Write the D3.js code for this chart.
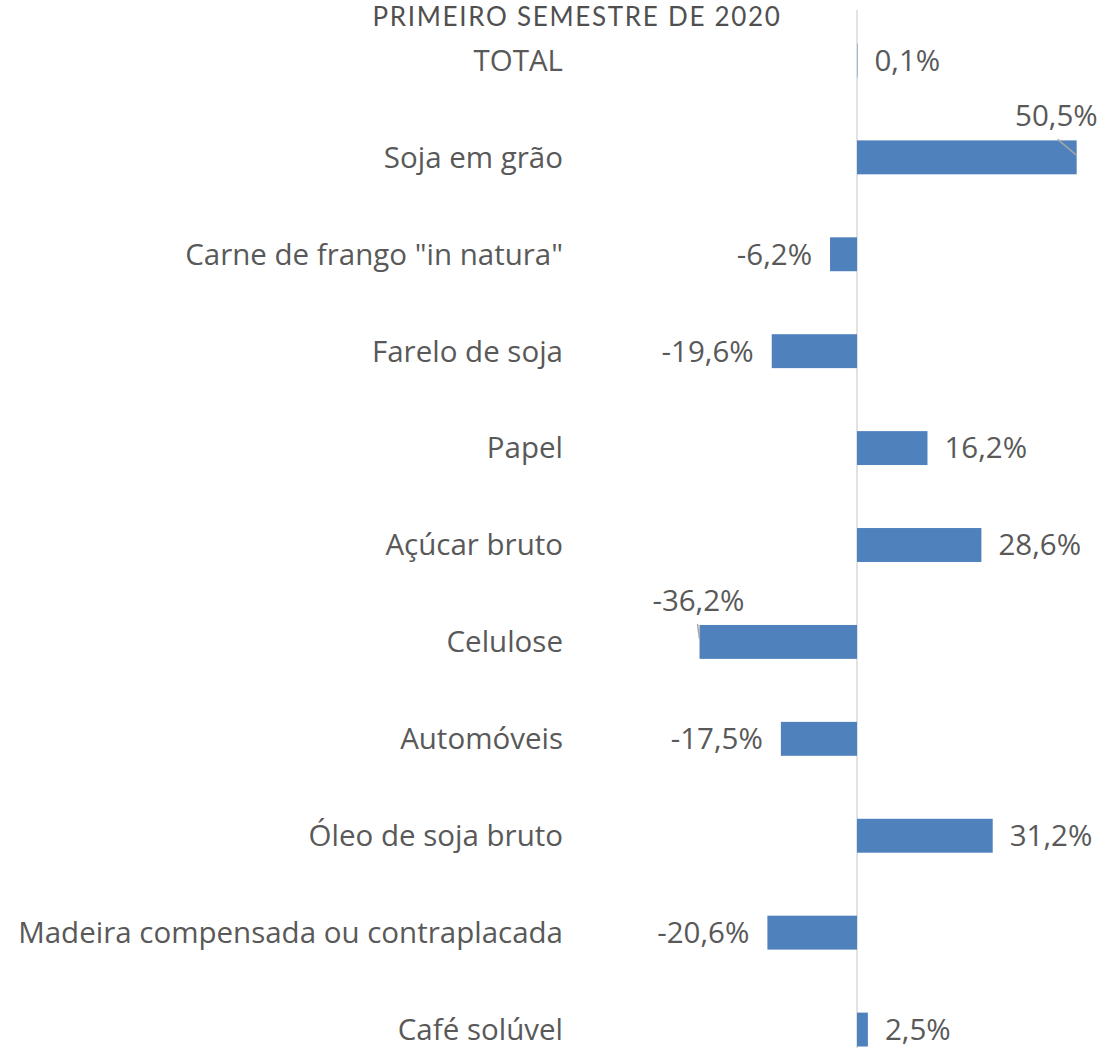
<!DOCTYPE html>
<html>
<head>
<meta charset="utf-8">
<script src="https://cdn.jsdelivr.net/npm/d3@7"></script>
<style>
  body { margin: 0; background: #fff; }
  svg { display: block; }
</style>
</head>
<body>
<svg id="chart"></svg>
<script>
const categories = ["TOTAL", "Soja em grão", "Carne de frango \"in natura\"", "Farelo de soja", "Papel",
  "Açúcar bruto", "Celulose", "Automóveis", "Óleo de soja bruto",
  "Madeira compensada ou contraplacada", "Café solúvel"]
const values = [0.1, 50.5, -6.2, -19.6, 16.2, 28.6, -36.2, -17.5, 31.2, -20.6, 2.5]
const valueLabels = ["0,1%", "50,5%", "-6,2%", "-19,6%", "16,2%", "28,6%", "-36,2%", "-17,5%", "31,2%", "-20,6%", "2,5%"]
// labels that Excel pushed above the bar
const aboveBar = ["Soja em grão", "Celulose"]
const title = "PRIMEIRO SEMESTRE DE 2020"

const W = 1104, H = 1048
const svg = d3.select('#chart').attr('width', W).attr('height', H)

const x = d3.scaleLinear().domain([-40, 55]).range([683, 1096.25])
const y = d3.scaleBand().domain(categories).range([11.5, 1078.5]).paddingInner(0.65).paddingOuter(0.33)

const font = "'Open Sans', sans-serif"
const textColor = '#595959'
const fs = '29.5px'

// title
svg.append('text')
  .attr('x', 577).attr('y', 26)
  .attr('text-anchor', 'middle')
  .style('font-family', "Lato, sans-serif")
  .style('font-weight', 400)
  .style('font-size', '26px')
  .style('letter-spacing', '1.7px')
  .style('fill', '#505050')
  .text(title)

// zero line
svg.append('line')
  .attr('x1', x(0)).attr('x2', x(0))
  .attr('y1', 10).attr('y2', H)
  .attr('stroke', '#d9d9d9').attr('stroke-width', 1.5)

// category labels
svg.append('g').selectAll('text')
  .data(categories)
  .join('text')
    .attr('x', 563)
    .attr('y', d => y(d) + y.bandwidth() / 2)
    .attr('dy', '0.35em')
    .attr('text-anchor', 'end')
    .style('font-family', font)
    .style('font-size', fs)
    .style('fill', textColor)
    .text(d => d)

// bars
svg.append('g').selectAll('rect')
  .data(values)
  .join('rect')
    .attr('x', d => x(Math.min(0, d)))
    .attr('width', d => Math.abs(x(d) - x(0)))
    .attr('y', (d, i) => y(categories[i]))
    .attr('height', y.bandwidth())
    .attr('fill', '#4f81bd')

// value labels
svg.append('g').selectAll('text')
  .data(values)
  .join('text')
    .each(function (d, i) {
      const t = d3.select(this)
      const c = categories[i]
      const cy = y(c) + y.bandwidth() / 2
      if (aboveBar.includes(c)) {
        t.attr('x', d > 0 ? x(d) + 21 : x(d) + 45)
         .attr('y', y(c) - 14)
         .attr('text-anchor', 'end')
      } else {
        t.attr('x', d >= 0 ? x(d) + 17 : x(d) - 18)
         .attr('y', cy)
         .attr('dy', '0.35em')
         .attr('text-anchor', d >= 0 ? 'start' : 'end')
      }
    })
    .style('font-family', font)
    .style('font-size', fs)
    .style('fill', textColor)
    .text((d, i) => valueLabels[i])

// little leader lines for the labels moved above the bars
svg.append('g').selectAll('line')
  .data(values.filter((d, i) => aboveBar.includes(categories[i])))
  .join('line')
    .attr('x1', d => d > 0 ? x(d) - 19 : x(d) - 2)
    .attr('y1', d => y(categories[values.indexOf(d)]) - 1)
    .attr('x2', d => x(d))
    .attr('y2', d => y(categories[values.indexOf(d)]) + (d > 0 ? 15 : 14))
    .attr('stroke', '#a6a6a6').attr('stroke-width', 1.5)
</script>
</body>
</html>
